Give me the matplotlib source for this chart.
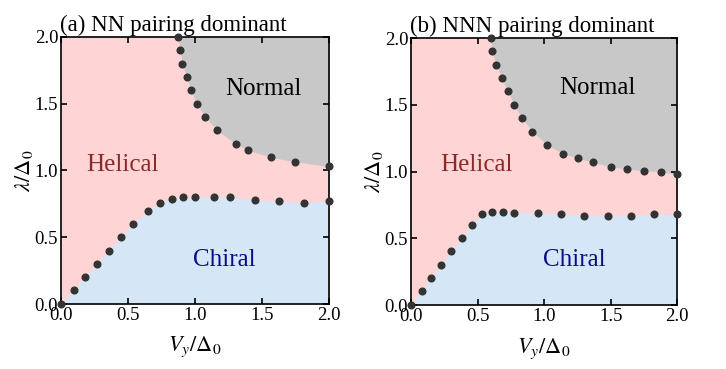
import numpy as np
import matplotlib.pyplot as plt

plt.rcParams['font.family'] = 'Liberation Serif'
plt.rcParams['mathtext.fontset'] = 'stix'

# panel (a): NN pairing dominant
a_up_x = [0.876, 0.888, 0.905, 0.938, 0.970, 1.012, 1.077, 1.167, 1.303, 1.398, 1.567, 1.744, 2.0]
a_up_y = [2.0, 1.9, 1.8, 1.7, 1.6, 1.5, 1.4, 1.3, 1.2, 1.15, 1.10, 1.065, 1.03]
a_lo_x = [0.0, 0.097, 0.182, 0.266, 0.356, 0.445, 0.540, 0.652, 0.739, 0.828, 0.913, 1.0,
          1.142, 1.261, 1.448, 1.629, 1.811, 2.0]
a_lo_y = [0.0, 0.105, 0.205, 0.30, 0.40, 0.50, 0.60, 0.70, 0.76, 0.79, 0.80, 0.80,
          0.80, 0.80, 0.78, 0.77, 0.76, 0.77]

# panel (b): NNN pairing dominant
b_up_x = [0.598, 0.61, 0.64, 0.68, 0.728, 0.773, 0.835, 0.91, 1.025, 1.14, 1.253, 1.365,
          1.503, 1.625, 1.75, 1.88, 2.0]
b_up_y = [2.0, 1.9, 1.8, 1.7, 1.6, 1.5, 1.4, 1.3, 1.2, 1.135, 1.10, 1.07,
          1.035, 1.02, 1.005, 1.0, 0.98]
b_lo_x = [0.0, 0.08, 0.153, 0.228, 0.303, 0.38, 0.46, 0.533, 0.61, 0.693, 0.775, 0.953,
          1.125, 1.30, 1.478, 1.653, 1.825, 2.0]
b_lo_y = [0.0, 0.107, 0.207, 0.30, 0.405, 0.50, 0.60, 0.68, 0.70, 0.70, 0.69, 0.69,
          0.685, 0.67, 0.67, 0.67, 0.68, 0.68]

titles = ['(a) NN pairing dominant', '(b) NNN pairing dominant']
label_pos = [
    {'Normal': (1.51, 1.61), 'Helical': (0.46, 1.04), 'Chiral': (1.216, 0.33)},
    {'Normal': (1.40, 1.625), 'Helical': (0.49, 1.05), 'Chiral': (1.23, 0.34)},
]
label_col = {'Normal': 'black', 'Helical': '#8b2a2a', 'Chiral': '#0c0c8a'}

pink = '#ffd4d4'
blue = '#d5e7f6'
grey = '#c8c8c8'

fig = plt.figure(figsize=(7.26, 3.69), dpi=100)
axes = [fig.add_axes([0.084, 0.176, 0.369, 0.724]),
        fig.add_axes([0.566, 0.173, 0.367, 0.724])]

data = [(a_up_x, a_up_y, a_lo_x, a_lo_y), (b_up_x, b_up_y, b_lo_x, b_lo_y)]

for i, ax in enumerate(axes):
    ux, uy, lx, ly = data[i]
    ax.set_facecolor(pink)
    ax.fill_between(lx, 0, ly, color=blue, lw=0)
    ax.fill_between(ux, uy, 2.0, color=grey, lw=0)
    ax.plot(ux, uy, 'o', color='#333333', ms=4.8, clip_on=False, zorder=5)
    ax.plot(lx, ly, 'o', color='#333333', ms=4.8, clip_on=False, zorder=5)
    ax.set_xlim(0, 2)
    ax.set_ylim(0, 2)
    ax.set_xticks([0, 0.5, 1.0, 1.5, 2.0])
    ax.set_yticks([0, 0.5, 1.0, 1.5, 2.0])
    ax.xaxis.set_major_formatter(plt.FormatStrFormatter('%.1f'))
    ax.yaxis.set_major_formatter(plt.FormatStrFormatter('%.1f'))
    ax.tick_params(direction='in', top=True, right=True, length=4.5, width=1.2,
                   labelsize=13.5, pad=2)
    for s in ax.spines.values():
        s.set_linewidth(1.2)
    ax.set_xlabel(r'$V_y/\Delta_0$', fontsize=16, labelpad=8)
    ax.set_ylabel(r'$\lambda/\Delta_0$', fontsize=16, labelpad=0)
    ax.set_title(titles[i], fontsize=16.5, loc='left', pad=4, x=-0.005)
    for name, (tx, ty) in label_pos[i].items():
        ax.text(tx, ty, name, fontsize=18, color=label_col[name],
                ha='center', va='center')

fig.savefig('out.png', dpi=100)
